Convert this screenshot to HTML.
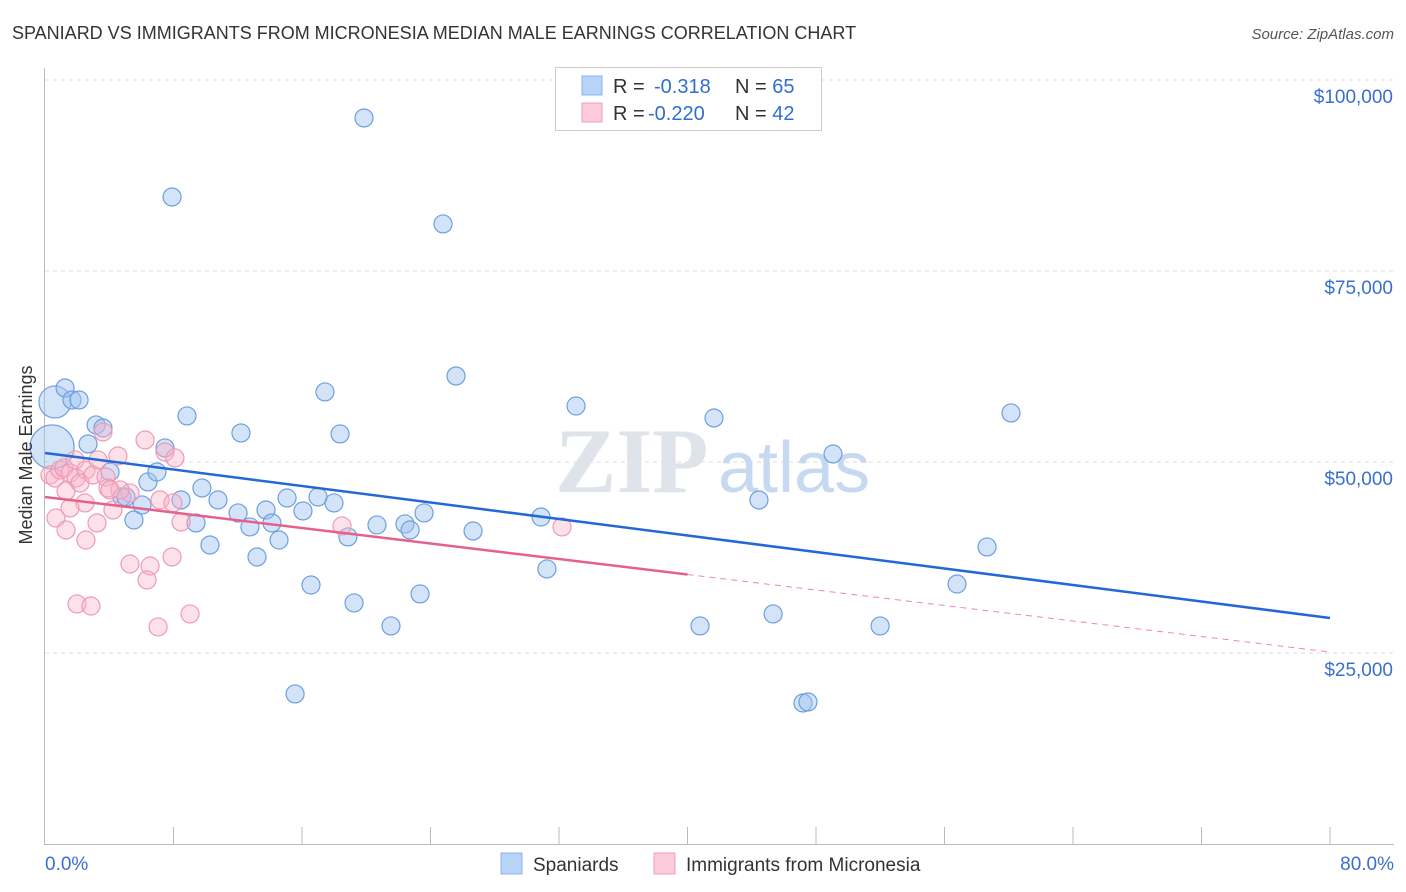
<!DOCTYPE html>
<html><head><meta charset="utf-8"><style>
body{margin:0;background:#fff;font-family:"Liberation Sans",sans-serif;}
svg{display:block}
</style></head><body>
<svg id="chart" width="1406" height="892" xmlns="http://www.w3.org/2000/svg">
<text x="12" y="39" font-size="18" fill="#333">SPANIARD VS IMMIGRANTS FROM MICRONESIA MEDIAN MALE EARNINGS CORRELATION CHART</text>
<text x="1394" y="39" font-size="15" fill="#555" font-style="italic" text-anchor="end">Source: ZipAtlas.com</text>
<g id="grid"></g>
<g id="axes"></g>
<text x="555" y="492" font-size="92" fill="#dfe3ea" font-family="Liberation Serif,serif" font-weight="bold">ZIP</text>
<text x="718" y="492" font-size="72" fill="#c7d9f0">atlas</text>
<g id="pts"></g>
<g id="lines"></g>
<text x="32" y="455" font-size="18" fill="#333" text-anchor="middle" transform="rotate(-90 32 455)">Median Male Earnings</text>
<g>
<rect x="555.5" y="67.5" width="266" height="63" fill="#fff" stroke="#ccc"/>
<rect x="582" y="76" width="20" height="19" fill="#b7d3f7" stroke="#8ab3e8"/>
<rect x="582" y="103" width="20" height="19" fill="#fbcbd9" stroke="#f0a0bb"/>
<text x="613" y="93" font-size="20" fill="#333">R = <tspan fill="#2f6fd0" x="654">-0.318</tspan><tspan fill="#333" x="735">N = </tspan><tspan fill="#2f6fd0">65</tspan></text>
<text x="613" y="120" font-size="20" fill="#333">R = <tspan fill="#2f6fd0" x="648">-0.220</tspan><tspan fill="#333" x="735">N = </tspan><tspan fill="#2f6fd0">42</tspan></text>
</g>
<g>
<rect x="501" y="853" width="21" height="21" fill="#b7d3f7" stroke="#8ab3e8"/>
<text x="533" y="871" font-size="19" fill="#333">Spaniards</text>
<rect x="654" y="853" width="21" height="21" fill="#fbcbd9" stroke="#f0a0bb"/>
<text x="686" y="871" font-size="19" fill="#333">Immigrants from Micronesia</text>
</g>
</svg>
<script>
const blueX=[0.62,1.25,1.68,2.12,0.44,3.18,3.61,2.68,4.05,6.41,6.97,7.47,5.54,6.04,4.79,5.04,8.47,8.84,7.91,9.77,10.77,9.40,10.27,12.02,12.76,12.20,13.20,13.76,14.13,14.57,15.07,16.06,16.56,15.57,17.00,17.99,17.43,18.37,18.86,19.24,19.86,20.67,21.54,22.41,22.73,23.60,23.35,24.78,25.59,26.65,30.88,31.25,33.06,40.78,41.65,44.45,45.33,47.19,47.50,49.06,51.99,56.78,58.65,60.14];
const blueY=[57.86,59.69,58.12,58.12,51.97,54.85,54.45,52.36,48.69,47.39,48.69,51.84,42.41,44.38,45.42,45.42,45.03,56.03,84.69,46.60,45.03,42.02,39.14,43.33,41.50,53.80,37.57,43.72,42.02,39.79,45.29,43.59,33.90,19.64,45.42,44.64,59.17,53.67,40.19,31.55,95.03,41.76,28.54,41.89,41.10,43.33,32.73,81.16,61.26,40.97,42.80,36.00,57.33,28.54,55.76,45.03,30.11,18.46,18.59,51.05,28.54,34.03,38.88,56.42];
const pinkX=[0.31,0.62,0.93,1.18,1.56,1.93,1.31,1.87,2.55,2.18,2.99,3.30,2.49,1.56,0.68,1.31,3.24,2.55,3.80,3.92,4.54,4.23,5.29,4.67,3.61,6.23,7.47,8.09,7.16,7.97,8.47,5.29,6.54,6.35,7.91,1.99,2.86,7.04,9.03,18.49,32.19,4.05];
const pinkY=[48.30,47.91,48.96,49.22,48.56,47.91,46.21,50.27,48.96,47.25,48.30,50.27,44.64,43.98,42.67,41.10,42.02,39.79,48.04,46.60,50.79,43.72,45.95,46.34,53.93,52.88,51.31,50.53,45.03,44.64,42.15,36.65,36.39,34.56,37.57,31.42,31.15,28.41,30.11,41.63,41.50,46.34];
const yTicks=[25,50,75,100];
const yTickLabels=["$25,000","$50,000","$75,000","$100,000"];
const xTickLabels=["0.0%","80.0%"];
const blueTrend=[51.18,29.58];
const pinkTrend=[45.42,25.13];
const pinkSolidEnd=40;
const NS="http://www.w3.org/2000/svg";
const X=v=>45+v/80*1285;
const Y=v=>844-v/25*191;
function mk(t,a,p){const e=document.createElementNS(NS,t);for(const k in a)e.setAttribute(k,a[k]);p.appendChild(e);return e;}
const grid=document.getElementById('grid'),axes=document.getElementById('axes'),pts=document.getElementById('pts'),lines=document.getElementById('lines');
yTicks.forEach((t,i)=>{
 const l=mk('line',{x1:45,x2:1394,y1:Y(t),y2:Y(t),stroke:'#ddd','stroke-dasharray':'4,4'},grid);
 
 
 const tx=mk('text',{x:1393,y:Y(t)+23,'font-size':19,fill:'#3a6fd0','text-anchor':'end'},axes);
 tx.textContent=yTickLabels[i];
 
 
});
const ax=mk('line',{x1:44.5,x2:44.5,y1:68,y2:845,stroke:'#bbb'},axes);


const bx=mk('line',{x1:44,x2:1394,y1:844.5,y2:844.5,stroke:'#bbb'},axes);


for(let i=1;i<=10;i++){const t=mk('line',{x1:X(i*8),x2:X(i*8),y1:827,y2:845,stroke:'#bbb'},axes);
 
 }
[[0,'start',45],[80,'end',1394]].forEach((d,i)=>{const t=mk('text',{x:d[2],y:870,'font-size':19,fill:'#3a6fd0','text-anchor':d[1]},axes);t.textContent=xTickLabels[i];
 
 });
const bigIdx={0:16,4:22};
blueX.forEach((x,i)=>{const c=mk('circle',{cx:X(x),cy:Y(blueY[i]),r:bigIdx[i]||9,fill:'rgba(160,196,240,0.45)',stroke:'#6d9fe0','stroke-width':1.2},pts);
 
 });
pinkX.forEach((x,i)=>{const c=mk('circle',{cx:X(x),cy:Y(pinkY[i]),r:9,fill:'rgba(248,180,200,0.4)',stroke:'#ef9ab6','stroke-width':1.2},pts);
 
 });
const bl=mk('line',{x1:X(0),y1:Y(blueTrend[0]),x2:X(80),y2:Y(blueTrend[1]),stroke:'#2369d6','stroke-width':2.5},lines);


const pm=pinkTrend[0]+(pinkTrend[1]-pinkTrend[0])*pinkSolidEnd/80;
const pl=mk('line',{x1:X(0),y1:Y(pinkTrend[0]),x2:X(pinkSolidEnd),y2:Y(pm),stroke:'#e6608c','stroke-width':2.5},lines);


const pd=mk('line',{x1:X(pinkSolidEnd),y1:Y(pm),x2:X(80),y2:Y(pinkTrend[1]),stroke:'#ec8aa8','stroke-width':1,'stroke-dasharray':'6,5'},lines);


</script>
</body></html>
